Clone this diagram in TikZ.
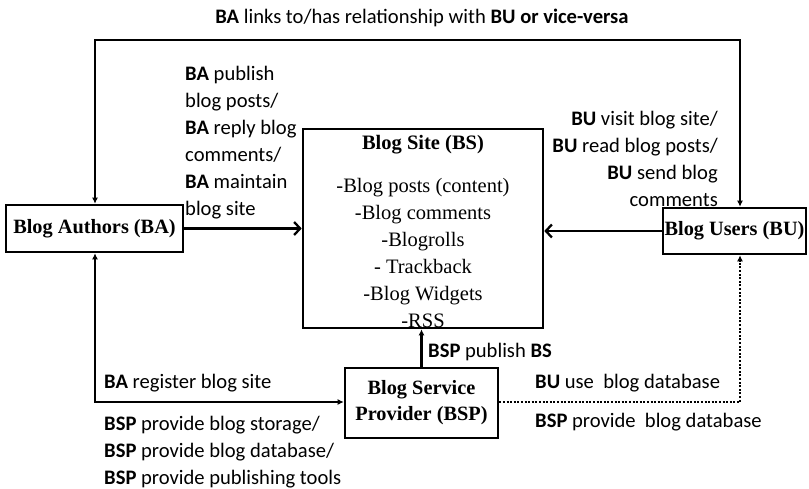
\documentclass[tikz,border=0pt]{standalone}
\usepackage{fontspec}
\setmainfont{Liberation Serif}
\newfontfamily\labfont{Carlito}
\usetikzlibrary{arrows.meta}
\begin{document}
\begin{tikzpicture}[x=1pt,y=-1pt,
  box/.style={draw, line width=2.6pt, inner sep=0pt, font=\fontsize{20.3}{26}\selectfont\bfseries, align=center},
  lab/.style={inner sep=0pt, font=\labfont\fontsize{20.6}{27}\selectfont},
  conn/.style={line width=2.3pt},
  tipS/.style={conn, {Latex[length=6pt,width=6pt]}-{Latex[length=6pt,width=6pt]}},
  tipE/.style={conn, -{Latex[length=6pt,width=6pt]}},
  chev/.style={conn, -{Straight Barb[length=6pt,width=13pt,line width=2.3pt]}}
]
\useasboundingbox (0,0) rectangle (809,489);

% boxes
\node[box, minimum width=177pt, minimum height=47pt] (BA) at (94.5,228.5) {Blog Authors (BA)};
\node[box, minimum width=240pt, minimum height=199pt] (BS) at (423,228.5) {};
\node[box, minimum width=143pt, minimum height=46pt] (BU) at (734.5,231) {Blog Users (BU)};
\node[box, minimum width=153pt, minimum height=70pt] (BSP) at (421.5,403) {Blog Service\\Provider (BSP)};

\node[inner sep=0pt, anchor=north, align=center, font=\fontsize{20.5}{27}\selectfont] (bsText) at (423,135)
  {\textbf{Blog Site (BS)}\\[16pt]-Blog posts (content)\\-Blog comments\\-Blogrolls\\- Trackback\\-Blog Widgets\\-RSS};

% labels
\node[lab] (title) at (422,18) {\textbf{BA} links to/has relationship with \textbf{BU} \textbf{or vice-versa}};
\node[lab, anchor=north west, align=left] (baLab) at (185,66)
  {\textbf{BA} publish\\blog posts/\\\textbf{BA} reply blog\\comments/\\\textbf{BA} maintain\\blog site};
\node[lab, anchor=north east, align=right] (buLab) at (718,111)
  {\textbf{BU} visit blog site/\\\textbf{BU} read blog posts/\\\textbf{BU} send blog\\comments};
\node[lab, anchor=west] (pubLab) at (428,352) {\textbf{BSP} publish \textbf{BS}};
\node[lab, anchor=west] (regLab) at (104,383) {\textbf{BA} register blog site};
\node[lab, anchor=north west, align=left] (provLab) at (104,416)
  {\textbf{BSP} provide blog storage/\\\textbf{BSP} provide blog database/\\\textbf{BSP} provide publishing tools};
\node[lab, anchor=west] (useLab) at (535,383) {\textbf{BU} use\ \ blog database};
\node[lab, anchor=west] (dbLab) at (535,422) {\textbf{BSP} provide\ \ blog database};

% connectors
\coordinate (tl) at (95,40);
\coordinate (tr) at (740,40);
\coordinate (bl) at (95,402);
\coordinate (br) at (740,402);
\draw[tipS] (tl |- BA.north) -- (tl) -- (tr) -- (tr |- BU.north);
\draw[chev] (BA.east) -- (BA.east -| BS.west);
\draw[chev] (BU.west) -- (BU.west -| BS.east);
\draw[tipS] (bl |- BA.south) -- (bl) -- (bl -| BSP.west);
\draw[tipE] (BSP.north) -- (BSP.north |- BS.south);
\draw[tipE, dash pattern=on 2pt off 1.6pt] (BSP.east |- br) -- (br) -- (br |- BU.south);
\end{tikzpicture}
\end{document}
